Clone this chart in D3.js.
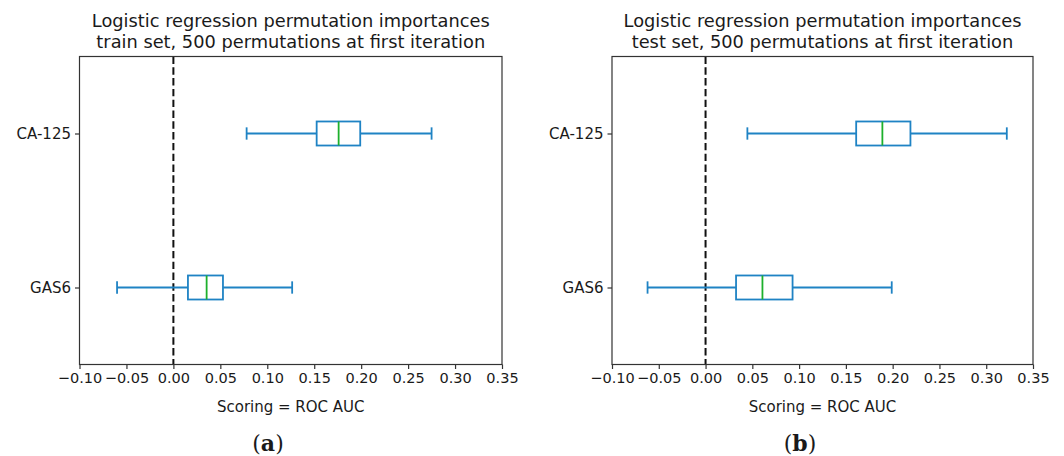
<!DOCTYPE html>
<html>
<head lang="en">
  <meta charset="UTF-8">
  <title>Permutation importances</title>
</head>
<style>
  body { margin: 0; background: #fff; }
  svg text { font-family: "DejaVu Sans", sans-serif; fill: #1a1a1a; }
  .frame { fill: none; stroke: #333; stroke-width: 1.2; }
  .box { fill: none; stroke: #1f83c4; stroke-width: 1.8; }
  .median { stroke: #1db02c; stroke-width: 1.8; }
  .zero { stroke: #111; stroke-width: 2; stroke-dasharray: 7.4 3.4; }
</style>
<body>

<svg id="chart" width="1064" height="456"></svg>

<script src="https://cdn.jsdelivr.net/npm/d3@7"></script>
<script>
  // Data: [low whisker, q1, median, q3, high whisker]
  var features = ['GAS6', 'CA-125'];
  var trainGAS6 = [-0.060, 0.0155, 0.0354, 0.0528, 0.1265];
  var trainCA125 = [0.078, 0.1526, 0.176, 0.199, 0.275];
  var testGAS6 = [-0.062, 0.0326, 0.0608, 0.093, 0.199];
  var testCA125 = [0.0447, 0.161, 0.189, 0.219, 0.322];
  var xTicks = [-0.10, -0.05, 0.00, 0.05, 0.10, 0.15, 0.20, 0.25, 0.30, 0.35];
  var titles = [
    ['Logistic regression permutation importances', 'train set, 500 permutations at first iteration'],
    ['Logistic regression permutation importances', 'test set, 500 permutations at first iteration']
  ];
  var panelLetters = ['a', 'b'];
  var xLabel = 'Scoring = ROC AUC';

  var panels = [
    { left: 79.5, right: 502, stats: [trainGAS6, trainCA125], title: titles[0], letter: panelLetters[0], letterX: 268 },
    { left: 612, right: 1033, stats: [testGAS6, testCA125], title: titles[1], letter: panelLetters[1], letterX: 800 }
  ];

  var plotTop = 56.5, plotBottom = 364.5;
  var boxHalf = 0.078, capHalf = 0.04;
  var svg = d3.select('#chart');

  panels.forEach(drawPanel);

  function drawPanel(p) {
    var x = d3.scaleLinear().domain([-0.10, 0.35]).range([p.left, p.right]);
    var y = d3.scaleLinear().domain([0.5, 2.5]).range([plotBottom, plotTop]);
    var g = svg.append('g');

    // x axis
    var xAxis = d3.axisBottom(x)
      .tickValues(xTicks)
      .tickFormat(d3.format('.2f'))
      .tickSizeOuter(0)
      .tickSize(4.5)
      .tickPadding(4);
    var xa = g.append('g')
      .attr('transform', 'translate(0,' + plotBottom + ')')
      .call(xAxis);
    xa.select('.domain').remove();
    xa.selectAll('.tick line').attr('stroke', '#333').attr('stroke-width', 1.2);
    xa.selectAll('.tick text').style('font-size', '14.5px').attr('fill', '#1a1a1a')
      .style('font-family', '"DejaVu Sans", sans-serif');

    // y axis
    var yAxis = d3.axisLeft(y)
      .tickValues([1, 2])
      .tickFormat(function (d) { return features[d - 1]; })
      .tickSizeOuter(0)
      .tickSize(4.5)
      .tickPadding(4);
    var ya = g.append('g')
      .attr('transform', 'translate(' + p.left + ',0)')
      .call(yAxis);
    ya.select('.domain').remove();
    ya.selectAll('.tick line').attr('stroke', '#333').attr('stroke-width', 1.2);
    ya.selectAll('.tick text').style('font-size', '15px').attr('fill', '#1a1a1a')
      .style('font-family', '"DejaVu Sans", sans-serif');

    // zero reference line
    g.append('line').attr('class', 'zero')
      .attr('x1', x(0)).attr('x2', x(0))
      .attr('y1', plotTop).attr('y2', plotBottom);

    // boxes
    var b = g.selectAll('g.bx')
      .data(p.stats)
      .enter()
      .append('g').attr('class', 'bx');

    b.append('line').attr('class', 'box')
      .attr('x1', function (d) { return x(d[0]); })
      .attr('x2', function (d) { return x(d[1]); })
      .attr('y1', function (d, i) { return y(i + 1); })
      .attr('y2', function (d, i) { return y(i + 1); });
    b.append('line').attr('class', 'box')
      .attr('x1', function (d) { return x(d[3]); })
      .attr('x2', function (d) { return x(d[4]); })
      .attr('y1', function (d, i) { return y(i + 1); })
      .attr('y2', function (d, i) { return y(i + 1); });
    [0, 4].forEach(function (k) {
      b.append('line').attr('class', 'box')
        .attr('x1', function (d) { return x(d[k]); })
        .attr('x2', function (d) { return x(d[k]); })
        .attr('y1', function (d, i) { return y(i + 1 + capHalf); })
        .attr('y2', function (d, i) { return y(i + 1 - capHalf); });
    });
    b.append('rect').attr('class', 'box')
      .attr('x', function (d) { return x(d[1]); })
      .attr('width', function (d) { return x(d[3]) - x(d[1]); })
      .attr('y', function (d, i) { return y(i + 1 + boxHalf); })
      .attr('height', function (d, i) { return y(i + 1 - boxHalf) - y(i + 1 + boxHalf); });
    b.append('line').attr('class', 'median')
      .attr('x1', function (d) { return x(d[2]); })
      .attr('x2', function (d) { return x(d[2]); })
      .attr('y1', function (d, i) { return y(i + 1 + boxHalf); })
      .attr('y2', function (d, i) { return y(i + 1 - boxHalf); });

    // frame
    g.append('rect').attr('class', 'frame')
      .attr('x', p.left).attr('y', plotTop)
      .attr('width', p.right - p.left).attr('height', plotBottom - plotTop);

    // titles
    var cx = (p.left + p.right) / 2;
    g.selectAll('text.title')
      .data(p.title)
      .enter()
      .append('text').attr('class', 'title')
      .attr('x', cx)
      .attr('y', function (d, i) { return 27 + i * 20.5; })
      .attr('text-anchor', 'middle')
      .style('font-size', '17.8px')
      .text(function (d) { return d; });

    g.append('text')
      .attr('x', cx).attr('y', 412)
      .attr('text-anchor', 'middle')
      .style('font-size', '15px')
      .text(xLabel);

    var lt = g.append('text')
      .attr('x', p.letterX).attr('y', 451)
      .attr('text-anchor', 'middle')
      .style('font-family', '"DejaVu Serif", "Liberation Serif", serif')
      .style('font-size', '22px');
    lt.append('tspan').text('(');
    lt.append('tspan').style('font-weight', 'bold').text(p.letter);
    lt.append('tspan').text(')');
  }
</script>
</body>
</html>
